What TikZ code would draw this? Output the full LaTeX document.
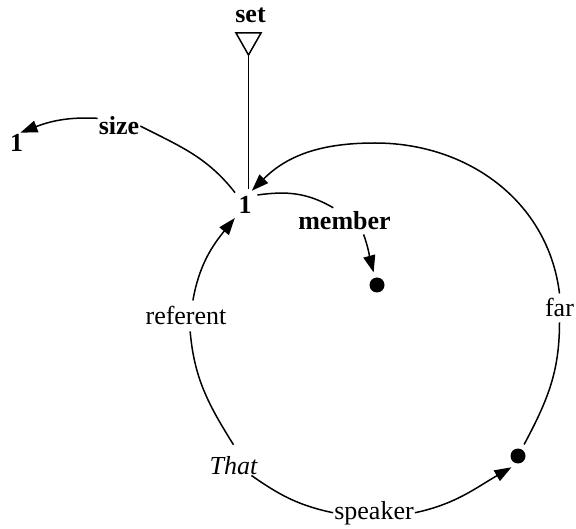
\documentclass[tikz,border=0pt]{standalone}
\usepackage{fontspec}
\setmainfont{Liberation Serif}
\usetikzlibrary{arrows.meta}

\tikzset{
  lbl/.style={font=\fontsize{26}{30}\selectfont, inner sep=1pt, anchor=base},
  blbl/.style={lbl, font=\fontsize{26}{30}\selectfont\bfseries},
  plain/.style={line width=1.5pt},
  link/.style={plain, -{Triangle[length=17pt,width=12pt]}},
  dot/.style={circle, fill=black, inner sep=0pt, minimum size=15pt, outer sep=5.5pt},
}

\begin{document}
\begin{tikzpicture}[x=1pt,y=1pt]
    \useasboundingbox (0,0) rectangle (576,-529);
    % labels and points
    \node[blbl] (set) at (250.5,-23) {set};
    \node[blbl, circle, minimum size=32pt, inner sep=0pt] (n1) at (245,-214) {1};
    \node[blbl, inner sep=2pt] (one) at (16.5,-152) {1};
    \node[blbl] (size) at (119,-135) {size};
    \node[blbl, inner sep=4pt] (member) at (344.5,-230) {member};
    \node[dot] (dot1) at (377,-285) {};
    \node[dot] (dot2) at (518,-456) {};
    \node[lbl, inner xsep=1pt, inner ysep=6pt] (referent) at (186,-325) {referent};
    \node[lbl, inner xsep=1pt, inner ysep=5pt] (far) at (559.5,-317) {far};
    \node[lbl] (speaker) at (374,-519) {speaker};
    \node[lbl] (that) at (233.5,-474) {\itshape That};
    \coordinate (setapex) at (248.5,-55);
    \coordinate (top) at (375,-143);
    % set triangle
    \draw[plain, line join=miter] (236,-33) -- (261,-33) -- (setapex) -- cycle;
    \draw[plain] (setapex) -- (setapex |- n1.north);
    % size
    \draw[plain] (n1.128) to[out=128,in=-27] (size.east);
    \draw[link] (size.160) to[out=177,in=21] (one.70);
    % member
    \draw[plain] (n1.40) to[out=8,in=150] (member.130);
    \draw[link] (member.-35) to[out=-70,in=105] (dot1.105);
    % circle
    \draw[plain] ([yshift=10pt]that.north) to[out=122,in=-85] (referent.-75);
    \draw[link] (referent.66) to[out=80,in=231] (n1.231);
    \draw[plain] (dot2.62) to[out=62,in=-90] (far.south);
    \draw[link] (far.north) to[out=97,in=0] (top) to[out=180,in=45] (n1.65);
    \draw[plain] (that.-30) to[out=-35,in=168] (speaker.west);
    \draw[link] (speaker.east) to[out=12,in=210] (dot2.240);
\end{tikzpicture}
\end{document}
